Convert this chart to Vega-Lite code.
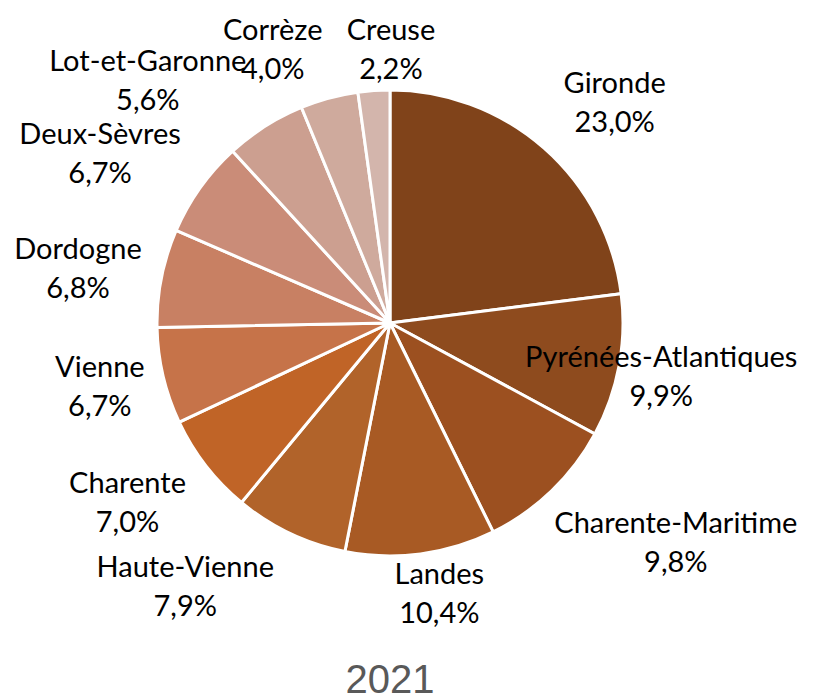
{
  "$schema": "https://vega.github.io/schema/vega-lite/v6.json",
  "width": 780,
  "height": 646,
  "autosize": {"type": "none"},
  "padding": {"left": 0, "top": 0, "right": 40, "bottom": 54},
  "background": "white",
  "title": {"text": "2021", "orient": "bottom", "anchor": "middle", "offset": 15, "font": "Liberation Sans", "fontSize": 40, "fontWeight": "normal", "color": "#595959"},
  "config": {
    "view": {"stroke": null},
    "text": {"align": "center", "baseline": "middle", "lineBreak": "\n", "lineHeight": 39, "font": "Lato", "fontSize": 29, "color": "black"}
  },
  "data": {"values": [
    {"name": "Gironde", "pct": "23,0%", "value": 23.0, "order": 1, "color": "#80431A"},
    {"name": "Pyrénées-Atlantiques", "pct": "9,9%", "value": 9.9, "order": 2, "color": "#8E4B1E"},
    {"name": "Charente-Maritime", "pct": "9,8%", "value": 9.8, "order": 3, "color": "#9C5020"},
    {"name": "Landes", "pct": "10,4%", "value": 10.4, "order": 4, "color": "#A85A24"},
    {"name": "Haute-Vienne", "pct": "7,9%", "value": 7.9, "order": 5, "color": "#B1632A"},
    {"name": "Charente", "pct": "7,0%", "value": 7.0, "order": 6, "color": "#C06427"},
    {"name": "Vienne", "pct": "6,7%", "value": 6.7, "order": 7, "color": "#C67349"},
    {"name": "Dordogne", "pct": "6,8%", "value": 6.8, "order": 8, "color": "#C88063"},
    {"name": "Deux-Sèvres", "pct": "6,7%", "value": 6.7, "order": 9, "color": "#CA8C78"},
    {"name": "Lot-et-Garonne", "pct": "5,6%", "value": 5.6, "order": 10, "color": "#CC9F90"},
    {"name": "Corrèze", "pct": "4,0%", "value": 4.0, "order": 11, "color": "#CFAA9D"},
    {"name": "Creuse", "pct": "2,2%", "value": 2.2, "order": 12, "color": "#D3B5AC"}
  ]},
  "transform": [
    {"stack": "value", "groupby": [], "sort": [{"field": "order", "order": "ascending"}], "as": ["v0", "v1"]},
    {"calculate": "(datum.v0 + datum.v1) / 2", "as": "mid"},
    {"calculate": "datum.name + '\\n' + datum.pct", "as": "label"}
  ],
  "encoding": {
    "theta": {"field": "mid", "type": "quantitative", "stack": false, "scale": {"domain": [0, 100], "range": [0, 6.283185307]}},
    "text": {"field": "label"}
  },
  "layer": [
    {
      "mark": {"type": "arc", "radius": 233, "stroke": "white", "strokeWidth": 3},
      "encoding": {
        "theta": {"field": "v0", "type": "quantitative", "stack": false, "scale": {"domain": [0, 100], "range": [0, 6.283185307]}},
        "theta2": {"field": "v1"},
        "text": null,
        "color": {"field": "color", "type": "nominal", "scale": null}
      }
    },
    {"transform": [{"filter": "datum.name == 'Gironde'"}], "mark": {"type": "text", "radius": 317, "dx": 15, "dy": -1}},
    {"transform": [{"filter": "datum.name == 'Pyrénées-Atlantiques'"}], "mark": {"type": "text", "radius": 276, "dx": 0, "dy": -16}},
    {"transform": [{"filter": "datum.name == 'Charente-Maritime'"}], "mark": {"type": "text", "radius": 340, "dx": 50, "dy": -44}},
    {"transform": [{"filter": "datum.name == 'Landes'"}], "mark": {"type": "text", "radius": 276, "dx": 13, "dy": -22}},
    {"transform": [{"filter": "datum.name == 'Haute-Vienne'"}], "mark": {"type": "text", "radius": 340, "dx": -59, "dy": -62}},
    {"transform": [{"filter": "datum.name == 'Charente'"}], "mark": {"type": "text", "radius": 317, "dx": -12, "dy": -33}},
    {"transform": [{"filter": "datum.name == 'Vienne'"}], "mark": {"type": "text", "radius": 300, "dx": 2, "dy": -23}},
    {"transform": [{"filter": "datum.name == 'Dordogne'"}], "mark": {"type": "text", "radius": 317, "dx": -1, "dy": -12}},
    {"transform": [{"filter": "datum.name == 'Deux-Sèvres'"}], "mark": {"type": "text", "radius": 340, "dx": -13, "dy": 9}},
    {"transform": [{"filter": "datum.name == 'Lot-et-Garonne'"}], "mark": {"type": "text", "radius": 340, "dx": -60, "dy": 26}},
    {"transform": [{"filter": "datum.name == 'Corrèze'"}], "mark": {"type": "text", "radius": 300, "dx": -39, "dy": -2}},
    {"transform": [{"filter": "datum.name == 'Creuse'"}], "mark": {"type": "text", "radius": 276, "dx": 20, "dy": -17}}
  ]
}
